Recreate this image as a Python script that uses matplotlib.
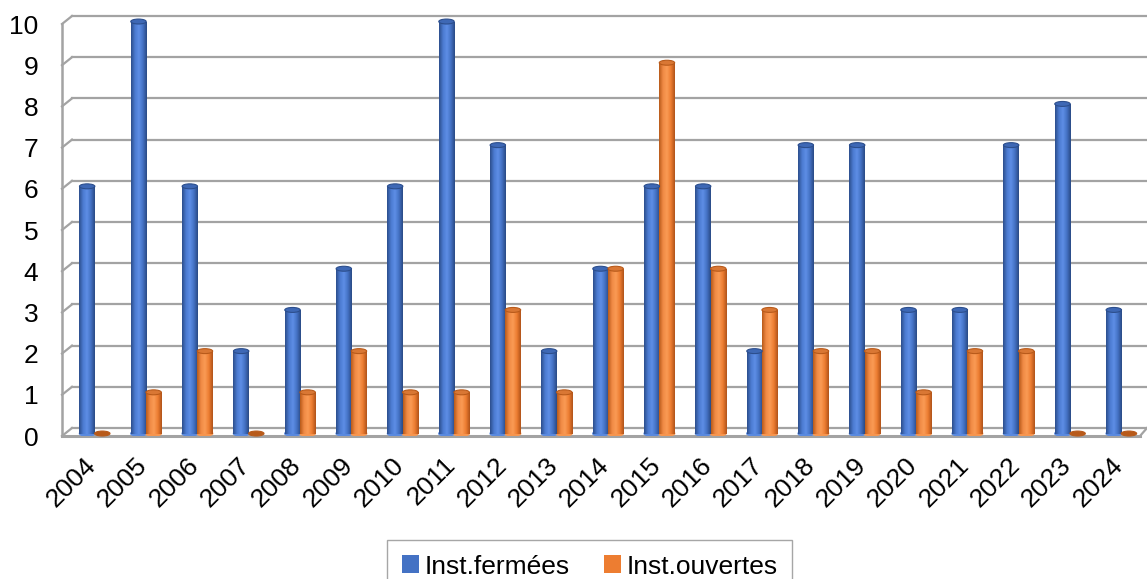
import matplotlib.pyplot as plt
import numpy as np
from matplotlib.patches import Ellipse, Patch
from matplotlib.transforms import ScaledTranslation
from matplotlib.colors import LinearSegmentedColormap

plt.rcParams['font.family'] = ['Liberation Sans', 'DejaVu Sans']

annees = ['2004', '2005', '2006', '2007', '2008', '2009', '2010', '2011', '2012', '2013',
          '2014', '2015', '2016', '2017', '2018', '2019', '2020', '2021', '2022', '2023', '2024']
fermees = [6, 10, 6, 2, 3, 4, 6, 10, 7, 2, 4, 6, 6, 2, 7, 7, 3, 3, 7, 8, 3]
ouvertes = [0, 1, 2, 0, 1, 2, 1, 1, 3, 1, 4, 9, 4, 3, 2, 2, 1, 2, 2, 0, 0]
noms_series = ['Inst.fermées', 'Inst.ouvertes']
yticks = list(range(0, 11))

bleu = '#4472C4'
orange = '#ED7D31'
gris = '#A3A3A3'

# Cartes de dégradé pour l'effet cylindre
cmap_bleu = LinearSegmentedColormap.from_list('b', ['#2C4E8C', '#4B7AD0', '#5E8EE6', '#4472C4', '#2A4A85'])
cmap_orange = LinearSegmentedColormap.from_list('o', ['#B85A1A', '#F08A45', '#FA9B55', '#ED7D31', '#B0531A'])

fig = plt.figure(figsize=(11.47, 5.79), dpi=100)
L, R, B, T = 62, 1140, 436, 24
ax = fig.add_axes([L / 1147, 1 - B / 579, (R - L) / 1147, (B - T) / 579])

x = np.arange(len(annees))
largeur = 0.30
base = 0.06          # les cylindres reposent légèrement en retrait du bord avant
prof_y = 8 / 41.2    # profondeur du mur en unités de données
prof_x = 10 / 51.3

ax.set_xlim(-0.5, len(annees) - 0.5)
ax.set_ylim(0, 10)

# Quadrillage du mur du fond + petites diagonales à gauche
for v in yticks:
    ax.plot([-0.5 + prof_x, len(annees) - 0.5 + 7 / 51.3], [v + prof_y, v + prof_y],
            color=gris, lw=1.6, zorder=1, clip_on=False)
    ax.plot([-0.5, -0.5 + prof_x], [v, v + prof_y], color=gris, lw=1.6, zorder=1, clip_on=False)

# Sol : bord avant et diagonale à droite
ax.plot([-0.5, len(annees) - 0.5], [0, 0], color=gris, lw=2.2, zorder=1, clip_on=False)
ax.plot([len(annees) - 0.5, len(annees) - 0.5 + 7 / 51.3], [0, prof_y], color=gris, lw=1.6,
        zorder=1, clip_on=False)
ax.plot([-0.5, -0.5], [0, 10], color=gris, lw=1.8, zorder=1, clip_on=False)


def cylindres(positions, valeurs, couleur, cmap):
    barres = ax.bar(positions, valeurs, largeur, bottom=base, color=couleur, zorder=3)
    grad = np.linspace(0, 1, 64).reshape(1, -1)
    for p, v in zip(barres.patches, valeurs):
        x0 = p.get_x()
        if v > 0:
            im = ax.imshow(grad, cmap=cmap, aspect='auto', zorder=3,
                           extent=[x0, x0 + largeur, base, base + v], interpolation='bilinear')
            im.set_clip_path(p)
            ax.add_patch(Ellipse((x0 + largeur / 2, base), largeur, 0.12, color=cmap(0.55), zorder=2.9))
        ax.add_patch(Ellipse((x0 + largeur / 2, base + v), largeur, 0.12,
                             facecolor=cmap(0.15) if v > 0 else cmap(0.0),
                             edgecolor=cmap(0.0), lw=0.8, zorder=4, clip_on=False))


cylindres(x - 0.01, fermees, bleu, cmap_bleu)
cylindres(x + 0.285, ouvertes, orange, cmap_orange)
ax.set_xlim(-0.5, len(annees) - 0.5)
ax.set_ylim(0, 10)

for s in ax.spines.values():
    s.set_visible(False)

ax.set_yticks(yticks)
ax.tick_params(axis='y', length=0, pad=17, labelsize=19)
ax.set_xticks(x)
ax.set_xticklabels(annees, rotation=45, ha='right', va='top', rotation_mode='anchor', fontsize=19)
ax.tick_params(axis='x', length=0, pad=12)
for lab in ax.get_xticklabels():
    lab.set_transform(lab.get_transform() + ScaledTranslation(-4 / 100, 0, fig.dpi_scale_trans))

poignees = [Patch(facecolor=bleu), Patch(facecolor=orange)]
fig.legend(poignees, noms_series, loc='upper center', bbox_to_anchor=(0.514, 1 - 540 / 579),
           ncol=2, fontsize=19, frameon=True, fancybox=False, edgecolor='#A6A6A6',
           handlelength=0.65, handleheight=0.65, handletextpad=0.2, columnspacing=1.3,
           borderpad=0.55, borderaxespad=0, framealpha=1)

fig.savefig('out.png', dpi=100)
